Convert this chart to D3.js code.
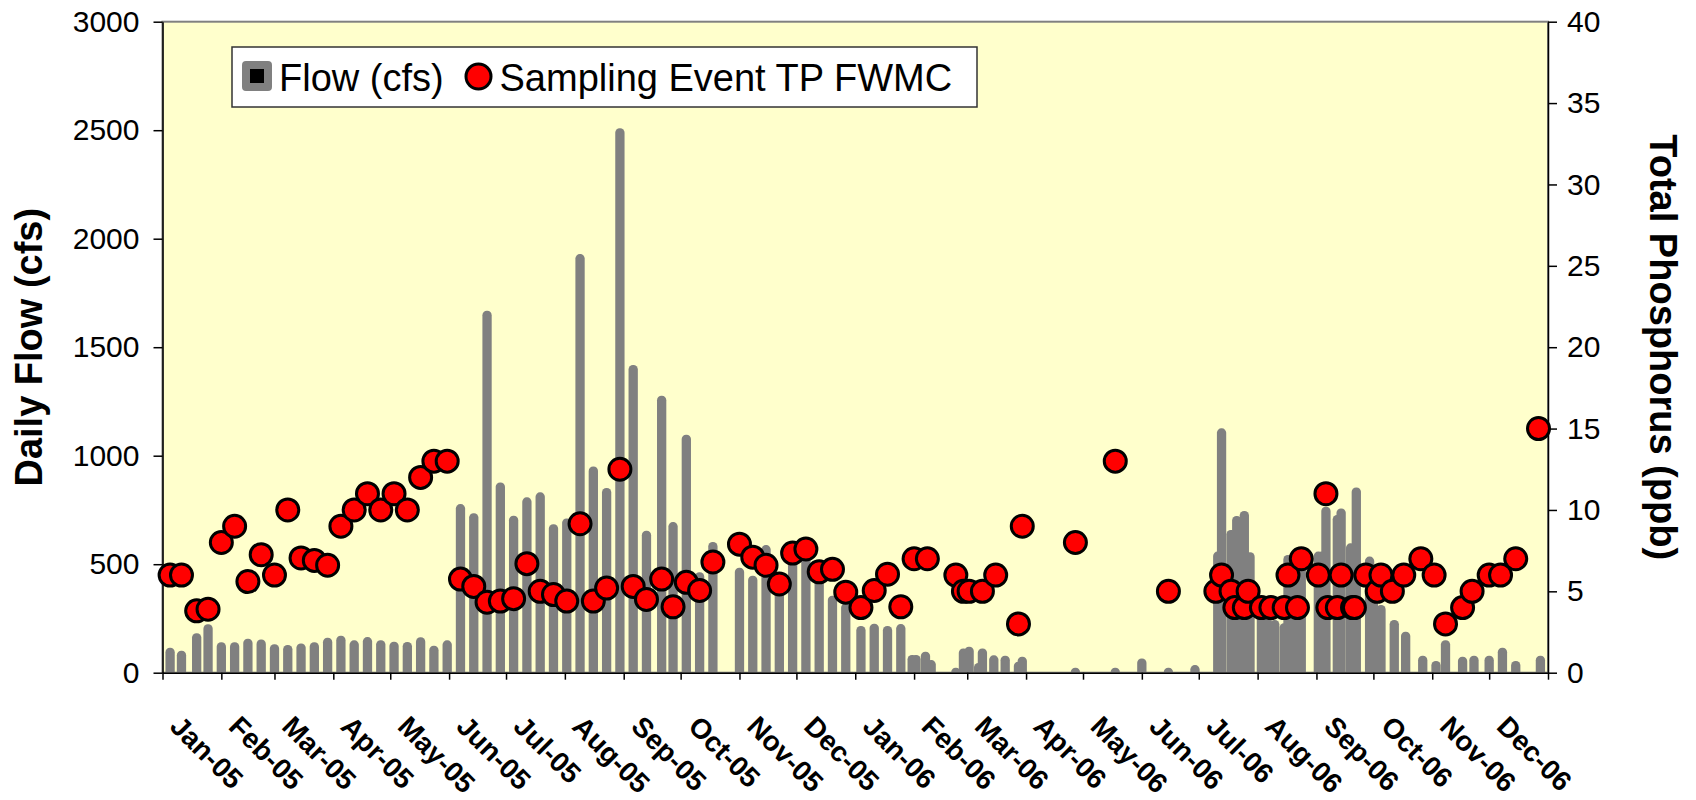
<!DOCTYPE html>
<html><head><meta charset="utf-8">
<script src="https://cdn.jsdelivr.net/npm/d3@7"></script>
<style>
html,body{margin:0;padding:0;background:#fff;}
svg{display:block;}
text{font-family:"Liberation Sans", Arial, sans-serif;}
</style></head><body>
<svg id="chart" width="1696" height="800"></svg>
<script>
const flowDates = ["2005-01-05","2005-01-11","2005-01-19","2005-01-25","2005-02-01","2005-02-08","2005-02-15","2005-02-22","2005-03-01","2005-03-08","2005-03-15","2005-03-22","2005-03-29","2005-04-05","2005-04-12","2005-04-19","2005-04-26","2005-05-03","2005-05-10","2005-05-17","2005-05-24","2005-05-31","2005-06-07","2005-06-14","2005-06-21","2005-06-28","2005-07-05","2005-07-12","2005-07-19","2005-07-26","2005-08-02","2005-08-09","2005-08-16","2005-08-23","2005-08-30","2005-09-06","2005-09-13","2005-09-21","2005-09-27","2005-10-04","2005-10-11","2005-10-18","2005-11-01","2005-11-08","2005-11-15","2005-11-22","2005-11-29","2005-12-06","2005-12-13","2005-12-20","2005-12-27","2006-01-04","2006-01-11","2006-01-18","2006-01-25","2006-01-31","2006-02-02","2006-02-07","2006-02-10","2006-02-23","2006-02-27","2006-03-02","2006-03-07","2006-03-09","2006-03-15","2006-03-21","2006-03-28","2006-03-30","2006-04-27","2006-05-18","2006-06-01","2006-06-15","2006-06-29","2006-07-11","2006-07-13","2006-07-18","2006-07-21","2006-07-25","2006-07-28","2006-08-03","2006-08-06","2006-08-09","2006-08-10","2006-08-15","2006-08-17","2006-08-20","2006-08-24","2006-09-02","2006-09-04","2006-09-06","2006-09-12","2006-09-14","2006-09-19","2006-09-22","2006-09-29","2006-10-01","2006-10-05","2006-10-12","2006-10-18","2006-10-27","2006-11-03","2006-11-08","2006-11-17","2006-11-23","2006-12-01","2006-12-08","2006-12-15","2006-12-28"];
const flowValues = [115,101,182,223,140,140,157,153,131,128,135,140,161,170,149,164,150,143,142,163,124,149,777,735,1668,877,723,808,831,684,711,1929,950,851,2509,1418,654,1276,694,1097,463,602,484,447,588,420,540,560,510,355,320,215,226,215,224,82,82,97,58,3,112,120,45,112,80,78,51,74,3,3,66,3,35,558,1126,658,722,745,555,290,280,220,243,228,542,545,540,558,558,765,727,757,596,854,535,420,312,243,189,78,54,150,74,78,78,115,54,78];
const tpDates = ["2005-01-05","2005-01-11","2005-01-19","2005-01-25","2005-02-01","2005-02-08","2005-02-15","2005-02-22","2005-03-01","2005-03-08","2005-03-15","2005-03-22","2005-03-29","2005-04-05","2005-04-12","2005-04-19","2005-04-26","2005-05-03","2005-05-10","2005-05-17","2005-05-24","2005-05-31","2005-06-07","2005-06-14","2005-06-21","2005-06-28","2005-07-05","2005-07-12","2005-07-19","2005-07-26","2005-08-02","2005-08-09","2005-08-16","2005-08-23","2005-08-30","2005-09-06","2005-09-13","2005-09-21","2005-09-27","2005-10-04","2005-10-11","2005-10-18","2005-11-01","2005-11-08","2005-11-15","2005-11-22","2005-11-29","2005-12-06","2005-12-13","2005-12-20","2005-12-27","2006-01-04","2006-01-11","2006-01-18","2006-01-25","2006-02-01","2006-02-08","2006-02-23","2006-02-27","2006-03-02","2006-03-09","2006-03-16","2006-03-28","2006-03-30","2006-04-27","2006-05-18","2006-06-15","2006-07-10","2006-07-13","2006-07-18","2006-07-20","2006-07-25","2006-07-27","2006-08-03","2006-08-08","2006-08-15","2006-08-17","2006-08-22","2006-08-24","2006-09-02","2006-09-06","2006-09-07","2006-09-12","2006-09-14","2006-09-20","2006-09-21","2006-09-27","2006-10-03","2006-10-05","2006-10-11","2006-10-17","2006-10-26","2006-11-02","2006-11-08","2006-11-17","2006-11-22","2006-12-01","2006-12-07","2006-12-15","2006-12-27"];
const tpValues = [6.0,6.0,3.8,3.9,8.0,9.0,5.6,7.25,6.0,10.0,7.05,6.9,6.6,9.0,10.0,11.0,10.0,11.0,10.0,12.0,13.0,13.0,5.75,5.3,4.33,4.4,4.55,6.7,5.0,4.8,4.4,9.15,4.4,5.2,12.5,5.3,4.5,5.75,4.05,5.55,5.05,6.8,7.9,7.1,6.6,5.45,7.35,7.6,6.2,6.35,4.95,4.0,5.05,6.05,4.05,7.0,7.0,6.0,5.0,5.0,5.0,6.0,3.0,9.0,8.0,13.0,5.0,5.0,6.0,5.0,4.0,4.0,5.0,4.0,4.0,4.0,6.0,4.0,7.0,6.0,11.0,4.0,4.0,6.0,4.0,4.0,6.0,5.0,6.0,5.0,6.0,7.0,6.0,3.0,4.0,5.0,6.0,6.0,7.0,15.0];
const flowTicks = [0,500,1000,1500,2000,2500,3000];
const tpTicks = [0,5,10,15,20,25,30,35,40];
const monthLabels = ["Jan-05","Feb-05","Mar-05","Apr-05","May-05","Jun-05","Jul-05","Aug-05","Sep-05","Oct-05","Nov-05","Dec-05","Jan-06","Feb-06","Mar-06","Apr-06","May-06","Jun-06","Jul-06","Aug-06","Sep-06","Oct-06","Nov-06","Dec-06"];
const leftTitle = "Daily Flow (cfs)";
const rightTitle = "Total Phosphorus (ppb)";
const legendLabels = ["Flow (cfs)", "Sampling Event TP FWMC"];

const parse = d3.timeParse("%Y-%m-%d");
const L = 162.5, R = 1548, T = 21.7, B = 672.7;
const x = d3.scaleTime().domain([new Date(2005,0,1), new Date(2007,0,1)]).range([L, R]);
const yL = d3.scaleLinear().domain([0,3000]).range([B, T]);
const yR = d3.scaleLinear().domain([0,40]).range([B, T]);
const svg = d3.select("#chart");

svg.append("defs").append("clipPath").attr("id","plotclip")
  .append("rect").attr("x",L).attr("y",T).attr("width",R-L).attr("height",B-T);

svg.append("rect").attr("x",L).attr("y",T).attr("width",R-L).attr("height",B-T)
  .attr("fill","#FFFFCC").attr("stroke","#808080").attr("stroke-width",2);

const flow = flowDates.map((d,i)=>({date:parse(d), v:flowValues[i]}));
const tp = tpDates.map((d,i)=>({date:parse(d), v:tpValues[i]}));

const half = 4.4;
svg.append("g").attr("clip-path","url(#plotclip)")
  .selectAll("rect").data(flow).join("rect")
  .attr("x", d=>x(d.date)-0.25).attr("width",0.5)
  .attr("y", d=>Math.min(yL(d.v)+half, B-0.5))
  .attr("height", d=>B+8-Math.min(yL(d.v)+half, B-0.5))
  .attr("fill","#808080").attr("stroke","#808080")
  .attr("stroke-width",half*2).attr("stroke-linejoin","round");

// axes
const gl = svg.append("g").attr("transform",`translate(${L},0)`)
  .call(d3.axisLeft(yL).tickValues(flowTicks).tickSize(9).tickSizeOuter(0).tickPadding(14).tickFormat(d3.format("d")));
const gr = svg.append("g").attr("transform",`translate(${R},0)`)
  .call(d3.axisRight(yR).tickValues(tpTicks).tickSize(9).tickSizeOuter(0).tickPadding(10).tickFormat(d3.format("d")));
const months = d3.timeMonth.range(new Date(2005,0,1), new Date(2007,0,2));
const gb = svg.append("g").attr("transform",`translate(0,${B})`)
  .call(d3.axisBottom(x).tickValues(months).tickSize(7).tickSizeOuter(0).tickFormat(""));
[gl,gr].forEach(g=>{
  g.selectAll("text").attr("font-size",30).attr("fill","#000").attr("font-family","'Liberation Sans', Arial, sans-serif");
});
[gl,gr,gb].forEach(g=>{
  g.select(".domain").attr("stroke","#000").attr("stroke-width",1.5);
  g.selectAll(".tick line").attr("stroke","#000").attr("stroke-width",1.5);
});

// month labels
svg.append("g").selectAll("text").data(monthLabels).join("text")
  .attr("transform",(d,i)=>`translate(${x(months[i])+6},728) rotate(45)`)
  .attr("font-size",28).attr("font-weight","bold").attr("fill","#000")
  .text(d=>d);

// TP circles
svg.append("g").selectAll("circle").data(tp).join("circle")
  .attr("cx", d=>x(d.date)).attr("cy", d=>yR(d.v)).attr("r",11)
  .attr("fill","#FF0000").attr("stroke","#000").attr("stroke-width",3);

// axis titles
svg.append("text").attr("transform",`translate(42,${(T+B)/2}) rotate(-90)`)
  .attr("text-anchor","middle").attr("font-size",38).attr("font-weight","bold").text(leftTitle);
svg.append("text").attr("transform",`translate(1650,${(T+B)/2}) rotate(90)`)
  .attr("text-anchor","middle").attr("font-size",38).attr("font-weight","bold").text(rightTitle);

// legend
const lg = svg.append("g");
lg.append("rect").attr("x",232).attr("y",47).attr("width",745).attr("height",60)
  .attr("fill","#fff").attr("stroke","#333").attr("stroke-width",1.5);
lg.append("rect").attr("x",246).attr("y",65).attr("width",22).attr("height",22)
  .attr("fill","#000").attr("stroke","#808080").attr("stroke-width",8).attr("stroke-linejoin","round");
lg.append("text").attr("x",279).attr("y",90.5).attr("font-size",38).text(legendLabels[0]);
lg.append("circle").attr("cx",478.5).attr("cy",76.5).attr("r",12.5)
  .attr("fill","#FF0000").attr("stroke","#000").attr("stroke-width",3);
lg.append("text").attr("x",499.5).attr("y",90.5).attr("font-size",38).text(legendLabels[1]);
</script>
</body></html>
